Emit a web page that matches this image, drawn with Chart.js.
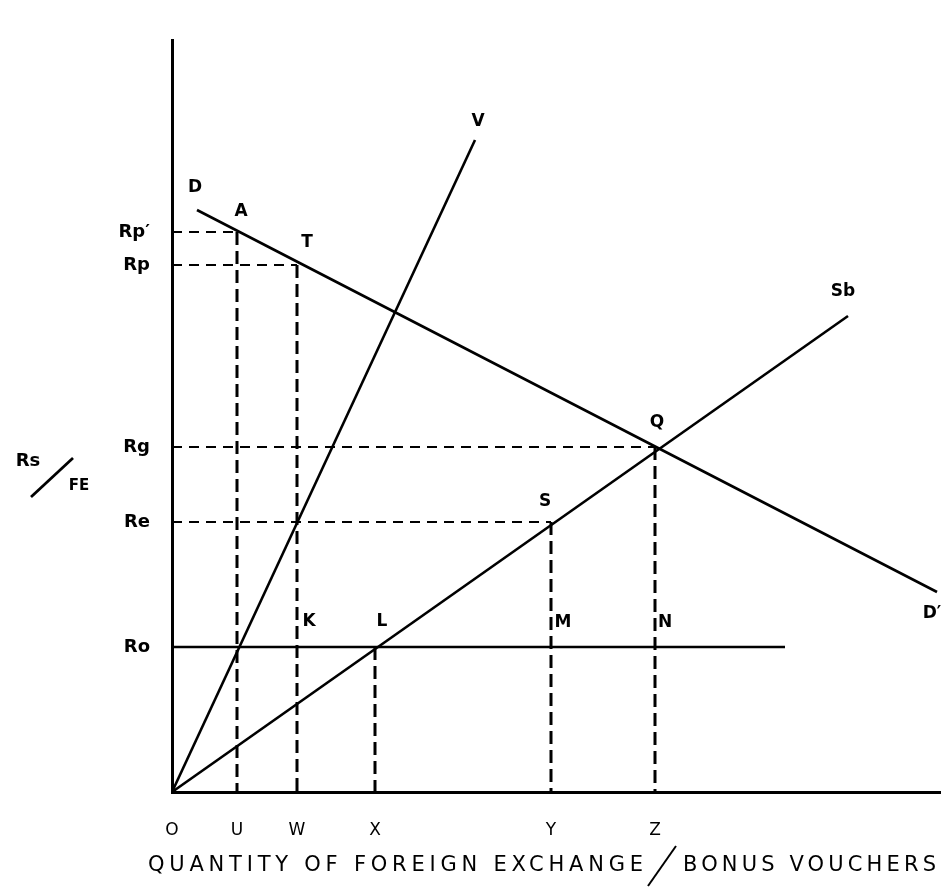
<!DOCTYPE html>
<html>
<head>
<meta charset="utf-8">
<script src="https://cdn.jsdelivr.net/npm/chart.js@4.4.1/dist/chart.umd.min.js"></script>
<style>
  html, body { margin: 0; padding: 0; background: #fff; }
  canvas { display: block; }
</style>
</head>
<body>
<canvas id="c" width="943" height="894"></canvas>
<script>
// ---- data (arbitrary diagram units) ----
const xTickValues = [0, 6.5, 12.5, 20.3, 37.9, 48.3];
const xTickLabels = ['O', 'U', 'W', 'X', 'Y', 'Z'];
const yTickValues = [14.5, 27, 34.5, 52.7, 56];
const yTickLabels = ['Ro', 'Re', 'Rg', 'Rp', 'Rp\u2032'];

const demandD = [{x: 2.5, y: 58.2}, {x: 76.5, y: 20}];
const lineV = [{x: 0, y: 0}, {x: 30.3, y: 65.2}];
const supplySb = [{x: 0, y: 0}, {x: 67.6, y: 47.6}];
const lineRo = [{x: 0, y: 14.5}, {x: 61.3, y: 14.5}];

// guide corners (point where horizontal and vertical dashed lines meet)
const guideA = {x: 6.5, y: 56};
const guideT = {x: 12.5, y: 52.7};
const guideQ = {x: 48.3, y: 34.5};
const guideS = {x: 37.9, y: 27};
const guideL = {x: 20.3, y: 14.5};

const pointLabels = [
  {text: 'D', at: demandD[0], dx: -2, dy: -22},
  {text: 'A', at: guideA, dx: 4, dy: -20},
  {text: 'T', at: guideT, dx: 10, dy: -22},
  {text: 'V', at: lineV[1], dx: 3, dy: -18},
  {text: 'Sb', at: supplySb[1], dx: -5, dy: -24},
  {text: 'Q', at: guideQ, dx: 2, dy: -24},
  {text: 'S', at: guideS, dx: -6, dy: -20},
  {text: 'K', at: {x: 12.5, y: 14.5}, dx: 12, dy: -25},
  {text: 'L', at: guideL, dx: 7, dy: -25},
  {text: 'M', at: {x: 37.9, y: 14.5}, dx: 12, dy: -24},
  {text: 'N', at: {x: 48.3, y: 14.5}, dx: 10, dy: -24},
  {text: 'D\u2032', at: demandD[1], dx: -5, dy: 22}
];

const xTitleLeft = 'QUANTITY OF FOREIGN EXCHANGE';
const xTitleRight = 'BONUS VOUCHERS';

// ---- build datasets ----
function solid(data) {
  return {data, showLine: true, borderColor: '#000', borderWidth: 2.6, pointRadius: 0, fill: false, tension: 0};
}
function dashed(data, w, dash) {
  return {data, showLine: true, borderColor: '#000', borderWidth: w, borderDash: dash, pointRadius: 0, fill: false, tension: 0};
}
const datasets = [solid(demandD), solid(lineV), solid(supplySb), solid(lineRo)];
[guideA, guideT, guideQ, guideS].forEach(g => {
  datasets.push(dashed([{x: 0, y: g.y}, {x: g.x, y: g.y}], 1.8, [10, 7]));
});
[guideA, guideT, guideQ, guideS, guideL].forEach(g => {
  datasets.push(dashed([{x: g.x, y: g.y}, {x: g.x, y: 0}], 3, [13, 6]));
});

const labelPlugin = {
  id: 'labels',
  afterDraw(chart) {
    const ctx = chart.ctx;
    const xs = chart.scales.x, ys = chart.scales.y;
    ctx.save();
    ctx.fillStyle = '#000';
    ctx.textAlign = 'center';
    ctx.textBaseline = 'middle';
    ctx.font = 'bold 17px "DejaVu Sans"';
    pointLabels.forEach(p => {
      ctx.fillText(p.text, xs.getPixelForValue(p.at.x) + p.dx, ys.getPixelForValue(p.at.y) + p.dy);
    });
    // y axis title Rs / FE
    ctx.font = 'bold 18px "DejaVu Sans"';
    ctx.fillText('Rs', 28, 461);
    ctx.font = 'bold 15px "DejaVu Sans"';
    ctx.fillText('FE', 79, 486);
    ctx.lineWidth = 2.8;
    ctx.beginPath(); ctx.moveTo(31, 497); ctx.lineTo(73, 458); ctx.stroke();
    // x axis title with wide letter spacing
    ctx.font = '21px "DejaVu Sans"';
    ctx.textAlign = 'left';
    const fit = (txt, x0, x1) => {
      ctx.letterSpacing = '0px';
      const w = ctx.measureText(txt).width;
      const sp = (x1 - x0 - w) / (txt.length - 1);
      ctx.letterSpacing = sp + 'px';
      ctx.fillText(txt, x0, 866);
    };
    fit(xTitleLeft, 148, 643);
    fit(xTitleRight, 683, 936);
    ctx.letterSpacing = '0px';
    ctx.lineWidth = 2;
    ctx.beginPath(); ctx.moveTo(648, 886); ctx.lineTo(676, 846); ctx.stroke();
    ctx.restore();
  }
};

new Chart(document.getElementById('c'), {
  type: 'scatter',
  data: {datasets},
  options: {
    responsive: false,
    animation: false,
    devicePixelRatio: 1,
    layout: {padding: {top: 40, right: 3, left: 0, bottom: 0}},
    plugins: {legend: {display: false}, tooltip: {enabled: false}},
    scales: {
      x: {
        type: 'linear', min: 0, max: 76.8,
        grid: {display: false},
        border: {display: true, color: '#000', width: 3},
        afterBuildTicks: s => { s.ticks = xTickValues.map(v => ({value: v})); },
        afterFit: s => { s.height = 102; },
        ticks: {
          autoSkip: false, maxRotation: 0, padding: 20, color: '#000',
          font: {family: 'DejaVu Sans', size: 17},
          callback: (v, i) => xTickLabels[i]
        }
      },
      y: {
        type: 'linear', min: 0, max: 75.2,
        grid: {display: false},
        border: {display: true, color: '#000', width: 3},
        afterBuildTicks: s => { s.ticks = yTickValues.map(v => ({value: v})); },
        afterFit: s => { s.width = 172; },
        ticks: {
          autoSkip: false, padding: 14, color: '#000',
          font: {family: 'DejaVu Sans', size: 18, weight: 'bold'},
          callback: (v, i) => yTickLabels[i]
        }
      }
    }
  },
  plugins: [labelPlugin]
});
</script>
</body>
</html>
